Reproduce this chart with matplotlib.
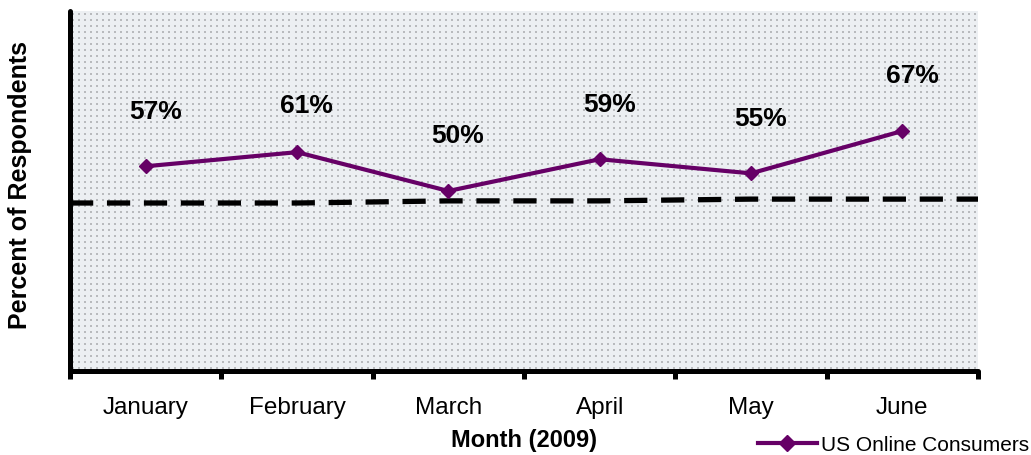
import numpy as np
import matplotlib.pyplot as plt
from matplotlib.lines import Line2D

plt.rcParams['font.family'] = ['Liberation Sans', 'DejaVu Sans']

months = ['January', 'February', 'March', 'April', 'May', 'June']
consumers = [57, 61, 50, 59, 55, 67]          # US online consumers, %
benchmark = [46.6, 46.6, 47.2, 47.2, 47.7, 47.7]  # dashed reference line, %

purple = '#660066'

fig = plt.figure(figsize=(10.31, 4.56), dpi=100)
ax = fig.add_axes([0.0679, 0.1842, 0.8807, 0.7895])
ax.set_facecolor('#eceff2')

# dotted background pattern
nx, ny = 151, 60
gx, gy = np.meshgrid((np.arange(nx) + 0.5) / nx, (np.arange(ny) + 0.5) / ny)
ax.scatter(gx.ravel(), gy.ravel(), s=1.5, marker='s', color='#b8babd',
           linewidths=0, transform=ax.transAxes, zorder=0)

x = np.arange(len(months)) + 0.5

# dashed line runs edge to edge
bx = np.concatenate([[0], x, [len(months)]])
by = np.concatenate([[benchmark[0]], benchmark, [benchmark[-1]]])
ax.plot(bx, by, color='black', lw=3.8, dashes=(4.4, 2.6),
        solid_capstyle='butt', dash_capstyle='butt', zorder=2)

ax.plot(x, consumers, color=purple, lw=3, marker='D', markersize=7.5,
        zorder=3)

for xi, v in zip(x, consumers):
    dy = 34 if v == 61 else 40
    ax.annotate(f'{v}%', (xi, v), xytext=(7, dy), textcoords='offset points',
                ha='center', va='center', fontsize=19, fontweight='bold')

ax.set_xlim(0, len(months))
ax.set_ylim(-1, 101)

for s in ['top', 'right']:
    ax.spines[s].set_visible(False)
for s in ['left', 'bottom']:
    ax.spines[s].set_linewidth(3.6)
    ax.spines[s].set_capstyle('round')

ax.set_yticks([])
ax.set_xticks(np.arange(len(months) + 1))
ax.set_xticklabels([])
ax.set_xticks(x, minor=True)
ax.set_xticklabels(months, minor=True, fontsize=17.5)
ax.tick_params(axis='x', which='major', direction='out', length=6, width=3.6)
ax.tick_params(axis='x', which='minor', length=0, pad=18)
for t in ax.xaxis.get_majorticklines():
    t.set_solid_capstyle('round')

ax.set_xlabel('Month (2009)', fontsize=17, fontweight='bold', labelpad=7)
ax.set_ylabel('Percent of Respondents', fontsize=18, fontweight='bold',
              labelpad=25)
ax.yaxis.set_label_coords(-0.042, 0.52)

handle = Line2D([], [], color=purple, lw=3, marker='D', markersize=8)
fig.legend([handle], ['US Online Consumers'], loc='center right',
           bbox_to_anchor=(0.998, 0.022), frameon=False, fontsize=15,
           handlelength=2.8, handletextpad=0.2, borderpad=0,
           borderaxespad=0)

fig.savefig('out.png', dpi=100)
